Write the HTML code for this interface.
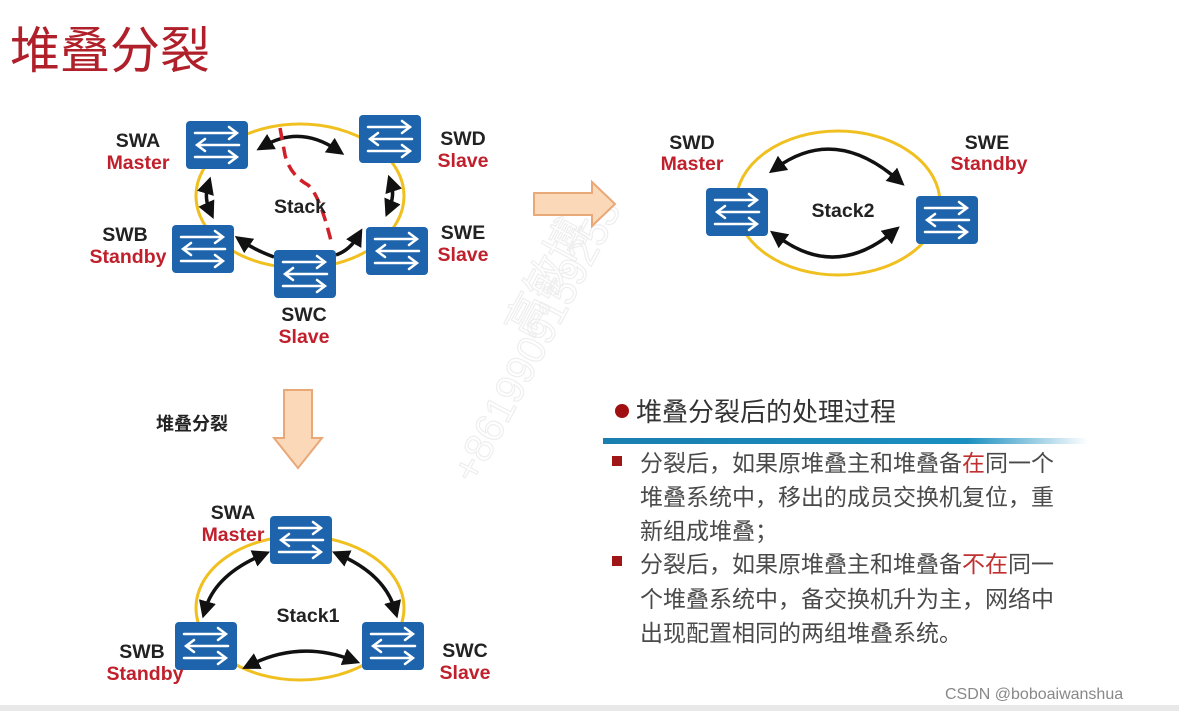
<!DOCTYPE html>
<html><head><meta charset="utf-8"><style>
html,body{margin:0;padding:0;background:#fff;width:1179px;height:711px;overflow:hidden}
svg{display:block}
.lb{font-family:"Liberation Sans","Noto Sans CJK SC",sans-serif;font-weight:bold;font-size:19.5px;text-anchor:middle}
.k{fill:#222}.r{fill:#c0202c}
.cn{font-family:"Liberation Sans","Noto Sans CJK SC",sans-serif;font-size:23px;fill:#4a4a4a}
</style></head><body>
<svg width="1179" height="711" viewBox="0 0 1179 711" xmlns="http://www.w3.org/2000/svg">
<defs>
<g id="sw">
<rect x="0" y="0" width="62" height="48" rx="4" fill="#1d64ad"/>
<g stroke="#fff" stroke-width="2.5" fill="none" stroke-linecap="round">
<line x1="9" y1="12" x2="50" y2="12"/><polyline points="43,6 51,12 43,18"/>
<line x1="12" y1="24" x2="53" y2="24"/><polyline points="19,18 11,24 19,30"/>
<line x1="9" y1="36" x2="50" y2="36"/><polyline points="43,30 51,36 43,42"/>
</g>
</g>
<marker id="ah" viewBox="0 0 10 10" refX="5" refY="5" markerWidth="5" markerHeight="5" orient="auto-start-reverse"><path d="M0,0 L10,5 L0,10 z" fill="#111"/></marker>
<linearGradient id="gl" x1="0" x2="1"><stop offset="0" stop-color="#1a7fb0"/><stop offset="0.75" stop-color="#1a8fc0"/><stop offset="1" stop-color="#fff"/></linearGradient>
</defs>

<text x="10" y="68" font-family="Liberation Sans,Noto Sans CJK SC,sans-serif" font-size="50" fill="#b0202a">堆叠分裂</text>

<!-- watermark -->
<text x="0" y="0" transform="translate(530,340) rotate(-62)" font-family="Liberation Sans,Noto Sans CJK SC,sans-serif" font-size="42" fill="none" stroke="#eeeeee" stroke-width="1.2">高敏博</text>
<text x="0" y="0" transform="translate(475,485) rotate(-62)" font-family="Liberation Sans,sans-serif" font-size="40" fill="none" stroke="#eeeeee" stroke-width="1.2">+8619909159253</text>

<!-- top ring -->
<ellipse cx="300" cy="196" rx="104" ry="72" fill="none" stroke="#f0c020" stroke-width="3"/>
<g stroke="#111" stroke-width="3.5" fill="none" marker-start="url(#ah)" marker-end="url(#ah)">
<path d="M264,146 Q300,125 337,150"/>
<path d="M208,185 Q204,198 210,211"/>
<path d="M391,183 Q395,195 389,209"/>
</g>
<g stroke="#111" stroke-width="3.5" fill="none" marker-end="url(#ah)">
<path d="M274,257 Q255,250 242,241"/>
<path d="M336,255 Q350,250 358,236"/>
</g>
<use href="#sw" x="186" y="121"/>
<use href="#sw" x="359" y="115"/>
<use href="#sw" x="172" y="225"/>
<use href="#sw" x="366" y="227"/>
<use href="#sw" x="274" y="250"/>
<path d="M280,128 L285,155 Q290,175 308,185 Q320,195 332,245" fill="none" stroke="#d0202a" stroke-width="3.5" stroke-dasharray="12,7"/>
<text x="300" y="213" class="lb k">Stack</text>
<text x="138" y="147" class="lb k">SWA</text><text x="138" y="169" class="lb r">Master</text>
<text x="463" y="145" class="lb k">SWD</text><text x="463" y="167" class="lb r">Slave</text>
<text x="125" y="241" class="lb k">SWB</text><text x="128" y="263" class="lb r">Standby</text>
<text x="463" y="239" class="lb k">SWE</text><text x="463" y="261" class="lb r">Slave</text>
<text x="304" y="321" class="lb k">SWC</text><text x="304" y="343" class="lb r">Slave</text>

<!-- right arrow -->
<path d="M534,193 L592,193 L592,182 L615,204 L592,226 L592,215 L534,215 Z" fill="#fbd9b8" stroke="#e8a878" stroke-width="2"/>

<!-- right ring -->
<ellipse cx="838" cy="203" rx="102" ry="72" fill="none" stroke="#f0c020" stroke-width="3"/>
<g stroke="#111" stroke-width="3.5" fill="none" marker-start="url(#ah)" marker-end="url(#ah)">
<path d="M776,168 Q835,125 898,180"/>
<path d="M777,236 Q835,280 893,232"/>
</g>
<use href="#sw" x="706" y="188"/>
<use href="#sw" x="916" y="196"/>
<text x="843" y="217" class="lb k">Stack2</text>
<text x="692" y="149" class="lb k">SWD</text><text x="692" y="170" class="lb r">Master</text>
<text x="987" y="149" class="lb k">SWE</text><text x="989" y="170" class="lb r">Standby</text>

<!-- down arrow -->
<path d="M284,390 L312,390 L312,438 L322,438 L298,468 L274,438 L284,438 Z" fill="#fbd9b8" stroke="#e8a878" stroke-width="2"/>
<text x="192" y="430" font-family="Liberation Sans,Noto Sans CJK SC,sans-serif" font-weight="bold" font-size="18" fill="#222" text-anchor="middle">堆叠分裂</text>

<!-- bottom ring -->
<ellipse cx="300" cy="608" rx="104" ry="72" fill="none" stroke="#f0c020" stroke-width="3"/>
<g stroke="#111" stroke-width="3.5" fill="none" marker-start="url(#ah)" marker-end="url(#ah)">
<path d="M262,555 Q215,575 205,610"/>
<path d="M340,555 Q385,575 395,610"/>
<path d="M250,665 Q300,640 352,660"/>
</g>
<use href="#sw" x="270" y="516"/>
<use href="#sw" x="175" y="622"/>
<use href="#sw" x="362" y="622"/>
<text x="308" y="622" class="lb k">Stack1</text>
<text x="233" y="519" class="lb k">SWA</text><text x="233" y="541" class="lb r">Master</text>
<text x="142" y="658" class="lb k">SWB</text><text x="145" y="680" class="lb r">Standby</text>
<text x="465" y="657" class="lb k">SWC</text><text x="465" y="679" class="lb r">Slave</text>

<!-- text panel -->
<circle cx="622" cy="411" r="7" fill="#a01010"/>
<text x="636" y="421" font-family="Liberation Sans,Noto Sans CJK SC,sans-serif" font-size="26" fill="#333">堆叠分裂后的处理过程</text>
<rect x="603" y="438" width="485" height="6" fill="url(#gl)"/>
<rect x="612" y="456" width="10" height="10" fill="#a01515"/>
<rect x="612" y="556" width="10" height="10" fill="#a01515"/>
<text x="640" y="471" class="cn">分裂后，如果原堆叠主和堆叠备<tspan fill="#c03030">在</tspan>同一个</text>
<text x="640" y="505" class="cn">堆叠系统中，移出的成员交换机复位，重</text>
<text x="640" y="539" class="cn">新组成堆叠；</text>
<text x="640" y="572" class="cn">分裂后，如果原堆叠主和堆叠备<tspan fill="#c03030">不在</tspan>同一</text>
<text x="640" y="607" class="cn">个堆叠系统中，备交换机升为主，网络中</text>
<text x="640" y="641" class="cn">出现配置相同的两组堆叠系统。</text>

<text x="945" y="699" font-family="Liberation Sans,sans-serif" font-size="16" fill="#888">CSDN @boboaiwanshua</text>
<rect x="0" y="705" width="1179" height="6" fill="#e8e8e8"/>
</svg>
</body></html>
